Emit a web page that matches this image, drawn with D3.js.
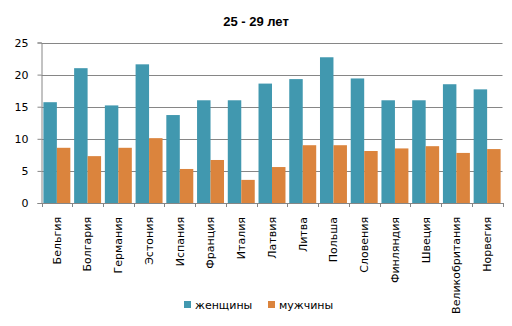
<!DOCTYPE html>
<html><head><meta charset="utf-8">
<script src="https://cdn.jsdelivr.net/npm/d3@7"></script>
<style>body{margin:0;background:#fff}svg{display:block}text{font-family:"DejaVu Sans",Verdana,sans-serif}</style>
</head><body>
<svg id="c" width="512" height="326"></svg>
<script>
const categories = ["Бельгия","Болгария","Германия","Эстония","Испания","Франция","Италия","Латвия","Литва","Польша","Словения","Финляндия","Швеция","Великобритания","Норвегия"];
const women = [15.7,21.0,15.2,21.6,13.7,16.0,16.0,18.6,19.3,22.7,19.4,16.0,16.0,18.5,17.7];
const men = [8.6,7.3,8.6,10.1,5.3,6.7,3.6,5.6,9.0,9.0,8.1,8.5,8.85,7.8,8.4];
const seriesNames = ["женщины","мужчины"];
const yTicks = [0,5,10,15,20,25];
const title = "25 - 29 лет";
const colors = ["#4198AF","#DB843D"];

const svg = d3.select("#c");
const L = 41.5, R = 502.5, T = 42.5, B = 203;
const x = d3.scaleBand().domain(categories).range([L, R]).padding(0);
const y = d3.scaleLinear().domain([0,25]).range([B, T]);
const bw = x.bandwidth();
const inner = d3.scaleBand().domain(seriesNames).range([0, bw]).paddingInner(0).paddingOuter(0.14);

svg.append("text").attr("x",256).attr("y",26).attr("text-anchor","middle")
  .attr("font-weight","bold").attr("font-size",13).style("font-family","Liberation Sans, Arial, sans-serif").text(title);

// gridlines
svg.append("g").selectAll("line").data(yTicks.filter(d=>d>0)).join("line")
  .attr("x1",L).attr("x2",R).attr("y1",d=>Math.round(y(d))+0.5).attr("y2",d=>Math.round(y(d))+0.5)
  .attr("stroke","#868686").attr("stroke-width",1);

// y axis
const ya = svg.append("g").attr("transform",`translate(${L},0)`).call(d3.axisLeft(y).tickValues(yTicks).tickSize(4).tickPadding(9));
ya.select(".domain").attr("stroke","#868686");
ya.selectAll(".tick line").attr("stroke","#868686");
ya.selectAll("text").attr("font-size",11).attr("fill","#000").style("font-family","DejaVu Sans, Verdana, sans-serif");

// bars
const data = seriesNames.map((s,i)=>({s, vals: i===0?women:men, c: colors[i]}));
svg.append("g").selectAll("g").data(data).join("g").attr("fill",d=>d.c)
  .selectAll("rect").data(d=>d.vals.map((v,j)=>({v,cat:categories[j],s:d.s}))).join("rect")
  .attr("x",d=>x(d.cat)+inner(d.s)).attr("width",inner.bandwidth())
  .attr("y",d=>y(d.v)).attr("height",d=>B-y(d.v));

// x axis
const xa = svg.append("g").attr("transform",`translate(0,${B})`).call(d3.axisBottom(x).tickSize(0).tickPadding(0));
xa.select(".domain").attr("stroke","#868686");
xa.selectAll(".tick line").remove();
xa.selectAll(".tick text").attr("font-size",11).attr("fill","#000").style("font-family","DejaVu Sans, Verdana, sans-serif")
  .attr("transform","rotate(-90)").attr("text-anchor","end").attr("dy","0.35em").attr("x",-14).attr("y",0);
// category boundary ticks
svg.append("g").selectAll("line").data(categories.concat(["_end"])).join("line")
  .attr("x1",(d,i)=>Math.round(L+i*bw)+0.5).attr("x2",(d,i)=>Math.round(L+i*bw)+0.5)
  .attr("y1",B).attr("y2",B+4).attr("stroke","#868686");

// legend
const lg = svg.append("g");
const legendX = [184, 268];
seriesNames.forEach((s,i)=>{
  lg.append("rect").attr("x",legendX[i]).attr("y",301).attr("width",7).attr("height",7).attr("fill",colors[i]);
  lg.append("text").attr("x",legendX[i]+11).attr("y",309).attr("font-size",11).text(s);
});
</script>
</body></html>
